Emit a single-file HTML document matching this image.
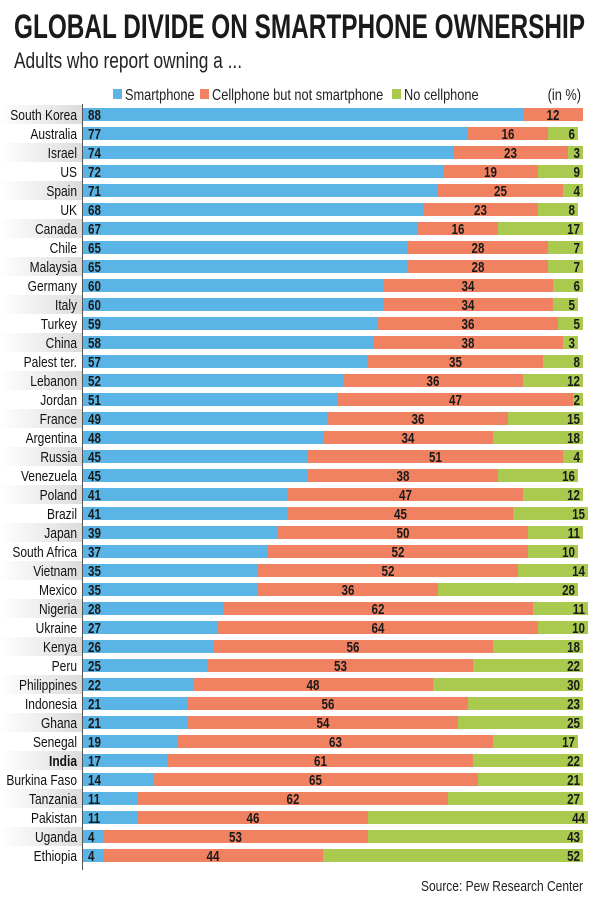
<!DOCTYPE html>
<html><head><meta charset="utf-8">
<style>
body{margin:0;background:#fff;width:600px;height:900px;overflow:hidden;font-family:"Liberation Sans",sans-serif;}
</style></head><body>
<svg id="chart" width="600" height="900" style="position:absolute;left:0;top:0">
<text x="14" y="38" font-size="34" font-weight="bold" fill="#1a1a1a" textLength="571" lengthAdjust="spacingAndGlyphs" font-family="Liberation Sans, sans-serif">GLOBAL DIVIDE ON SMARTPHONE OWNERSHIP</text>
<text x="14" y="68" font-size="22" fill="#222" textLength="228" lengthAdjust="spacingAndGlyphs" font-family="Liberation Sans, sans-serif">Adults who report owning a ...</text>
</svg>
<script>
const countries=["South Korea","Australia","Israel","US","Spain","UK","Canada","Chile","Malaysia","Germany","Italy","Turkey","China","Palest ter.","Lebanon","Jordan","France","Argentina","Russia","Venezuela","Poland","Brazil","Japan","South Africa","Vietnam","Mexico","Nigeria","Ukraine","Kenya","Peru","Philippines","Indonesia","Ghana","Senegal","India","Burkina Faso","Tanzania","Pakistan","Uganda","Ethiopia"];
const smartphone=[88,77,74,72,71,68,67,65,65,60,60,59,58,57,52,51,49,48,45,45,41,41,39,37,35,35,28,27,26,25,22,21,21,19,17,14,11,11,4,4];
const cellOnly=[12,16,23,19,25,23,16,28,28,34,34,36,38,35,36,47,36,34,51,38,47,45,50,52,52,36,62,64,56,53,48,56,54,63,61,65,62,46,53,44];
const noCell=[0,6,3,9,4,8,17,7,7,6,5,5,3,8,12,2,15,18,4,16,12,15,11,10,14,28,11,10,18,22,30,23,25,17,22,21,27,44,43,52];
const NS="http://www.w3.org/2000/svg";
const svg=document.getElementById('chart');
const x0=83,unit=5.0,rowTop=108,pitch=19,barH=13,SX=0.8;
const xs=v=>x0+v*unit;
const yRow=i=>rowTop+i*pitch;
function mk(tag,attrs){const e=document.createElementNS(NS,tag);for(const k in attrs)e.setAttribute(k,attrs[k]);svg.appendChild(e);return e;}
function txt(x,y,s,size,anchor,extra){const t=mk('text',Object.assign({x:0,y:0,'font-size':size,'text-anchor':anchor,fill:'#1a1a1a',transform:'translate('+x+','+y+') scale('+SX+',1)','font-family':'"Liberation Sans",sans-serif'},extra||{}));t.textContent=s;return t;}
const defs=mk('defs',{});
defs.innerHTML='<linearGradient id="g" x1="0" x2="1"><stop offset="0" stop-color="#fff"/><stop offset="1" stop-color="#dcdcdc"/></linearGradient>';
const leg=[["Smartphone","#5ab4e5",113],["Cellphone but not smartphone","#f08262",200],["No cellphone","#a9c94f",392]];
leg.forEach(l=>{
 const r=mk('rect',{x:l[2],y:89,width:9,height:10,fill:l[1]});
 
 
 const t=txt(l[2]+12,100,l[0],16,'start',{fill:'#222'});
 
 
});
const u=txt(581,100,'(in %)',16,'end',{fill:'#222'});


countries.forEach((c,i)=>{
 const y=yRow(i);
 if(i%2===0){const b=mk('rect',{x:0,y:y-3,width:82,height:19,fill:'url(#g)'});
  
  }
 const lt=txt(77,y+12,c,15,'end',{'font-weight':c==='India'?'bold':'normal',fill:'#111'});
 
 
 const segs=[[0,smartphone[i],'#5ab4e5','smartphone'],[smartphone[i],cellOnly[i],'#f08262','cellphone-only'],[smartphone[i]+cellOnly[i],noCell[i],'#a9c94f','no-cellphone']];
 segs.forEach((s,k)=>{
  if(s[1]<=0)return;
  const r=mk('rect',{x:xs(s[0]),y:y,width:s[1]*unit,height:barH,fill:s[2]});
  
  
  let tx,anchor;
  if(k===0){tx=xs(0)+5;anchor='start';}
  else if(k===1){tx=xs(s[0]+s[1]/2);anchor='middle';}
  else{tx=xs(s[0]+s[1])-3;anchor='end';}
  const t=txt(tx,y+12,String(s[1]),14.5,anchor,{'font-weight':'bold'});
  
  
 });
});
const ax=mk('line',{x1:82.5,x2:82.5,y1:104,y2:870,stroke:'#555','stroke-width':1});


const src=txt(583,891,'Source: Pew Research Center',15,'end',{fill:'#222'});


</script>
</body></html>
